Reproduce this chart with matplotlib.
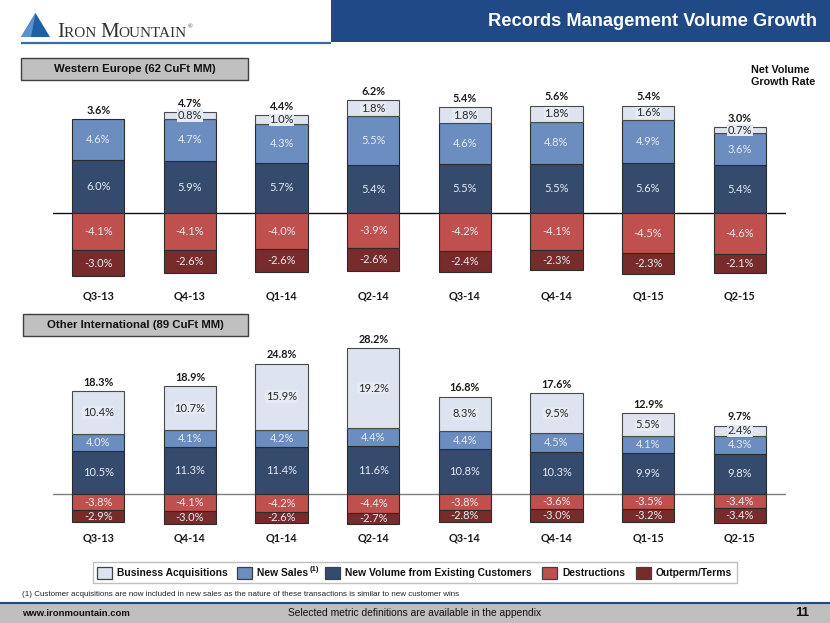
import matplotlib
matplotlib.use('Agg')
import matplotlib.pyplot as plt
from matplotlib.patches import Rectangle, Polygon
from matplotlib import font_manager as fm

# ---------------- data ----------------
we_quarters = ['Q3-13', 'Q4-13', 'Q1-14', 'Q2-14', 'Q3-14', 'Q4-14', 'Q1-15', 'Q2-15']
we_acq = [0.0, 0.8, 1.0, 1.8, 1.8, 1.8, 1.6, 0.7]
we_new = [4.6, 4.7, 4.3, 5.5, 4.6, 4.8, 4.9, 3.6]
we_exist = [6.0, 5.9, 5.7, 5.4, 5.5, 5.5, 5.6, 5.4]
we_destr = [-4.1, -4.1, -4.0, -3.9, -4.2, -4.1, -4.5, -4.6]
we_out = [-3.0, -2.6, -2.6, -2.6, -2.4, -2.3, -2.3, -2.1]
we_net = [3.6, 4.7, 4.4, 6.2, 5.4, 5.6, 5.4, 3.0]

oi_quarters = ['Q3-13', 'Q4-14', 'Q1-14', 'Q2-14', 'Q3-14', 'Q4-14', 'Q1-15', 'Q2-15']
oi_acq = [10.4, 10.7, 15.9, 19.2, 8.3, 9.5, 5.5, 2.4]
oi_new = [4.0, 4.1, 4.2, 4.4, 4.4, 4.5, 4.1, 4.3]
oi_exist = [10.5, 11.3, 11.4, 11.6, 10.8, 10.3, 9.9, 9.8]
oi_destr = [-3.8, -4.1, -4.2, -4.4, -3.8, -3.6, -3.5, -3.4]
oi_out = [-2.9, -3.0, -2.6, -2.7, -2.8, -3.0, -3.2, -3.4]
oi_net = [18.3, 18.9, 24.8, 28.2, 16.8, 17.6, 12.9, 9.7]

legend_labels = ['Business Acquisitions', 'New Sales', 'New Volume from Existing Customers',
                 'Destructions', 'Outperm/Terms']

# ---------------- style ----------------
C_ACQ = '#DDE4EF'
C_NEW = '#6B8DC0'
C_EXI = '#344B6E'
C_DES = '#C0504D'
C_OUT = '#772B2A'
C_HDR = '#1F4A86'
EDGE = '#2B2B2B'

names = {f.name for f in fm.fontManager.ttflist}
NARROW = 'Liberation Sans Narrow' if 'Liberation Sans Narrow' in names else 'Liberation Sans'
LBL = 'Lato' if 'Lato' in names else 'DejaVu Sans'
SERIF = 'Liberation Serif' if 'Liberation Serif' in names else 'DejaVu Serif'

W, H = 830, 623
fig = plt.figure(figsize=(W / 100, H / 100), dpi=100)
fig.patch.set_facecolor('white')
bg = fig.add_axes([0, 0, 1, 1])
bg.set_xlim(0, W)
bg.set_ylim(H, 0)
bg.axis('off')
renderer = fig.canvas.get_renderer()


def fit(t, width):
    bb = t.get_window_extent(renderer)
    if bb.width > 0:
        t.set_fontsize(t.get_fontsize() * width / bb.width)
    return t


# ---------------- header ----------------
bg.add_patch(Rectangle((331, 0), W - 331, 42, fc=C_HDR, ec='none'))
t = bg.text(817, 22, 'Records Management Volume Growth', ha='right', va='center',
            color='white', weight='bold', family=NARROW, size=14)
fit(t, 328)
bg.plot([21, 331], [42.5, 42.5], color='#3A6BA5', lw=1.6, solid_capstyle='butt')
bg.add_patch(Polygon([(21, 37), (35.5, 13), (50, 37)], closed=True, fc='#1F5FA8', ec='none'))
bg.add_patch(Polygon([(21, 37), (35.5, 13), (31, 37)], closed=True, fc='#5A92CF', ec='none'))
x = 57
for s, sz in [('I', 15), ('RON ', 11), ('M', 15), ('OUNTAIN', 11)]:
    tt = bg.text(x, 37, s, family=SERIF, size=sz, va='baseline', ha='left', color='#333333')
    x = tt.get_window_extent(renderer).x1
bg.text(x + 0.5, 28, '®', family=SERIF, size=4.5, va='baseline', ha='left', color='#333333')

# ---------------- section boxes ----------------
bg.add_patch(Rectangle((21, 58), 227, 22, fc='#C0C0C0', ec='#404040', lw=1))
fit(bg.text(134.5, 69.5, 'Western Europe (62 CuFt MM)', ha='center', va='center',
            weight='bold', family=NARROW, size=9, color='#111111'), 161)
bg.add_patch(Rectangle((23, 314), 225, 22, fc='#C0C0C0', ec='#404040', lw=1))
fit(bg.text(135.5, 325.5, 'Other International (89 CuFt MM)', ha='center', va='center',
            weight='bold', family=NARROW, size=9, color='#111111'), 176)

t1 = bg.text(751, 70, 'Net Volume', ha='left', va='center', weight='bold', family=NARROW,
             size=8, color='#111111')
t2 = bg.text(751, 82, 'Growth Rate', ha='left', va='center', weight='bold', family=NARROW,
             size=8, color='#111111')
fit(t2, 64)
t1.set_fontsize(t2.get_fontsize())


# ---------------- charts ----------------
def chart(top_px, bot_px, zero_px, px_per_pct, cats, exist, new, acq, destr, out, net, zcol):
    l, r = 52.5, 785.5
    ax = fig.add_axes([l / W, 1 - bot_px / H, (r - l) / W, (bot_px - top_px) / H])
    ax.set_facecolor('none')
    n = len(cats)
    ax.set_xlim(-0.5, n - 0.5)
    ax.set_ylim(-(bot_px - zero_px) / px_per_pct, (zero_px - top_px) / px_per_pct)
    for s in ax.spines.values():
        s.set_visible(False)
    ax.set_yticks([])
    ax.set_xticks(range(n))
    ax.set_xticklabels(cats, fontsize=7.8, weight='bold', family=LBL, color='#1a1a1a')
    ax.tick_params(axis='x', length=0, pad=3.0)
    ax.axhline(0, color=zcol, lw=1.0, zorder=1)
    bw = 0.57
    xs = list(range(n))
    pos_b = [e + s for e, s in zip(exist, new)]
    ax.bar(xs, exist, bw, color=C_EXI, edgecolor=EDGE, lw=0.8, zorder=2)
    ax.bar(xs, new, bw, bottom=exist, color=C_NEW, edgecolor=EDGE, lw=0.8, zorder=2)
    ai = [i for i in xs if acq[i] > 0]
    ax.bar(ai, [acq[i] for i in ai], bw, bottom=[pos_b[i] for i in ai], color=C_ACQ,
           edgecolor='#4A4A4A', lw=0.8, zorder=2)
    ax.bar(xs, destr, bw, color=C_DES, edgecolor=EDGE, lw=0.8, zorder=2)
    ax.bar(xs, out, bw, bottom=destr, color=C_OUT, edgecolor=EDGE, lw=0.8, zorder=2)
    kw = dict(ha='center', va='center', family=LBL, fontsize=8, zorder=4)
    light = '#E6EAF3'
    for i in xs:
        ax.text(i, exist[i] / 2, f'{exist[i]:.1f}%', color=light, **kw)
        ax.text(i, exist[i] + new[i] / 2, f'{new[i]:.1f}%', color=light, **kw)
        if acq[i] > 0:
            ax.text(i, pos_b[i] + acq[i] / 2, f'{acq[i]:.1f}%', color='#262626',
                    bbox=dict(boxstyle='square,pad=0.06', fc='#E6EBF3', ec='none'), **kw)
        ax.text(i, destr[i] / 2, f'{destr[i]:.1f}%', color=light, **kw)
        ax.text(i, destr[i] + out[i] / 2, f'{out[i]:.1f}%', color=light, **kw)
        top = pos_b[i] + acq[i]
        ax.annotate(f'{net[i]:.1f}%', xy=(i, top), xytext=(0, 2.4), textcoords='offset points',
                    ha='center', va='bottom', weight='bold', family=LBL, fontsize=7.8,
                    color='#1a1a1a', zorder=4)
    return ax


chart(88, 286, 213.3, 8.9, we_quarters, we_exist, we_new, we_acq, we_destr, we_out, we_net, '#111111')
chart(340, 528, 494.3, 4.15, oi_quarters, oi_exist, oi_new, oi_acq, oi_destr, oi_out, oi_net, '#7F7F7F')

# ---------------- legend ----------------
bg.add_patch(Rectangle((93, 562), 644, 21, fc='white', ec='#BFBFBF', lw=1))
leg_colors = [C_ACQ, C_NEW, C_EXI, C_DES, C_OUT]
leg_patch_x = [97, 237, 325, 542, 636]
leg_widths = [111, 51, 188, 63, 77]
sizes = []
texts = []
for lab, c, px, wdt in zip(legend_labels, leg_colors, leg_patch_x, leg_widths):
    bg.add_patch(Rectangle((px, 566.5), 15, 12.5, fc=c, ec='#404040', lw=0.9))
    tt = bg.text(px + 20, 573, lab, ha='left', va='center', weight='bold', family=NARROW,
                 size=8, color='#111111')
    fit(tt, wdt)
    texts.append(tt)
    sizes.append(tt.get_fontsize())
sizes_sorted = sorted(sizes)
common = sizes_sorted[len(sizes_sorted) // 2]
for tt in texts:
    tt.set_fontsize(common)
ns = texts[1].get_window_extent(renderer)
bg.text(ns.x1 + 1.5, 569.5, '(1)', ha='left', va='center', weight='bold', family=NARROW,
        size=common * 0.75, color='#111111')

# ---------------- footnote & footer ----------------
fit(bg.text(22, 595, '(1) Customer acquisitions are now included in new sales as the nature of '
            'these transactions is similar to new customer wins', ha='left', va='center',
            family=NARROW, size=6, color='#222222'), 441)
bg.add_patch(Rectangle((0, 603), W, 20, fc='#BFBFBF', ec='none'))
bg.plot([0, W], [603, 603], color=C_HDR, lw=1.5)
fit(bg.text(22, 613.5, 'www.ironmountain.com', ha='left', va='center', weight='bold',
            family=NARROW, size=8, color='#111111'), 108)
fit(bg.text(415, 613.5, 'Selected metric definitions are available in the appendix',
            ha='center', va='center', family=NARROW, size=8, color='#111111'), 256)
bg.text(802, 613.5, '11', ha='center', va='center', weight='bold', family=NARROW,
        size=9.5, color='#111111')

fig.savefig('out.png', dpi=100)
